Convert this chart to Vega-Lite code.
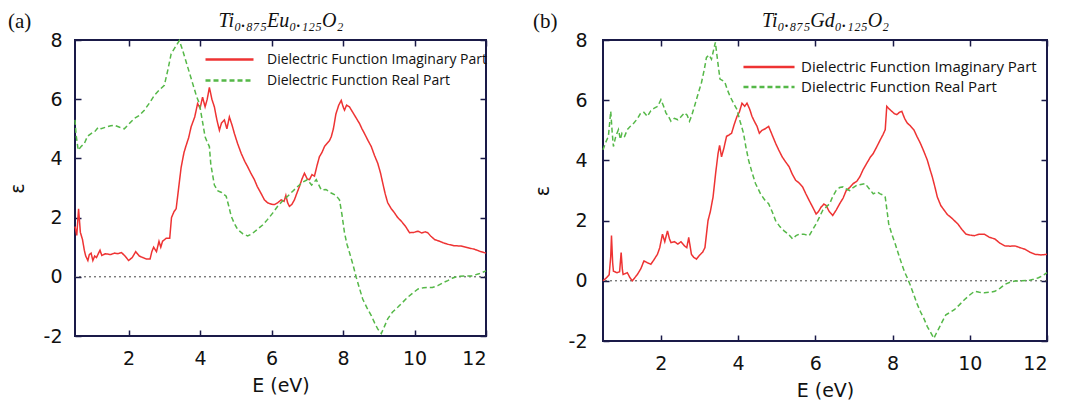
{
"$schema": "https://vega.github.io/schema/vega-lite/v6.json",
"background": "white",
"padding": {"left": 8, "top": 10, "right": 3, "bottom": 0},
"spacing": 44,
"config": {
 "view": {"stroke": null},
 "axis": {"domain": false, "grid": false, "ticks": true, "tickColor": "#1a1a48", "tickOpacity": 1, "tickWidth": 1.5, "tickSize": 6, "offset": -6, "labelFont": "DejaVu Sans", "labelFontSize": 19, "labelColor": "#111111", "titleFont": "DejaVu Sans", "titleFontSize": 19, "titleFontWeight": "normal", "titleColor": "#111111"},
 "title": {"font": "Liberation Serif", "fontSize": 21, "fontWeight": "normal", "anchor": "start", "frame": "bounds", "offset": -22, "color": "#111111"}
},
"resolve": {"scale": {"color": "independent", "strokeDash": "independent"}, "legend": {"color": "independent", "strokeDash": "independent"}},
"datasets": {
"a": [
{"E":0.5,"v":1.7,"p":"Im"},{"E":0.55,"v":1.4,"p":"Im"},{"E":0.6,"v":2.3,"p":"Im"},{"E":0.65,"v":1.5,"p":"Im"},{"E":0.71,"v":1.26,"p":"Im"},{"E":0.76,"v":0.9,"p":"Im"},{"E":0.8,"v":0.7,"p":"Im"},{"E":0.86,"v":0.55,"p":"Im"},{"E":0.9,"v":0.75,"p":"Im"},{"E":0.95,"v":0.8,"p":"Im"},{"E":1.0,"v":0.55,"p":"Im"},{"E":1.05,"v":0.7,"p":"Im"},{"E":1.1,"v":0.65,"p":"Im"},{"E":1.2,"v":0.9,"p":"Im"},{"E":1.25,"v":0.72,"p":"Im"},{"E":1.35,"v":0.78,"p":"Im"},{"E":1.5,"v":0.75,"p":"Im"},{"E":1.6,"v":0.8,"p":"Im"},{"E":1.7,"v":0.78,"p":"Im"},{"E":1.8,"v":0.82,"p":"Im"},{"E":1.9,"v":0.7,"p":"Im"},{"E":2.0,"v":0.55,"p":"Im"},{"E":2.1,"v":0.65,"p":"Im"},{"E":2.2,"v":0.85,"p":"Im"},{"E":2.3,"v":0.7,"p":"Im"},{"E":2.4,"v":0.65,"p":"Im"},{"E":2.5,"v":0.6,"p":"Im"},{"E":2.6,"v":0.6,"p":"Im"},{"E":2.65,"v":0.85,"p":"Im"},{"E":2.7,"v":1.0,"p":"Im"},{"E":2.78,"v":0.85,"p":"Im"},{"E":2.85,"v":1.2,"p":"Im"},{"E":2.9,"v":1.0,"p":"Im"},{"E":2.95,"v":1.2,"p":"Im"},{"E":3.05,"v":1.3,"p":"Im"},{"E":3.15,"v":1.3,"p":"Im"},{"E":3.2,"v":2.0,"p":"Im"},{"E":3.27,"v":2.2,"p":"Im"},{"E":3.33,"v":2.3,"p":"Im"},{"E":3.4,"v":3.0,"p":"Im"},{"E":3.47,"v":3.7,"p":"Im"},{"E":3.55,"v":4.2,"p":"Im"},{"E":3.6,"v":4.4,"p":"Im"},{"E":3.68,"v":4.7,"p":"Im"},{"E":3.75,"v":5.07,"p":"Im"},{"E":3.85,"v":5.4,"p":"Im"},{"E":3.93,"v":5.85,"p":"Im"},{"E":4.0,"v":5.7,"p":"Im"},{"E":4.07,"v":6.07,"p":"Im"},{"E":4.14,"v":5.74,"p":"Im"},{"E":4.2,"v":6.0,"p":"Im"},{"E":4.26,"v":6.4,"p":"Im"},{"E":4.33,"v":6.0,"p":"Im"},{"E":4.4,"v":5.74,"p":"Im"},{"E":4.47,"v":5.3,"p":"Im"},{"E":4.54,"v":4.95,"p":"Im"},{"E":4.6,"v":5.2,"p":"Im"},{"E":4.68,"v":5.3,"p":"Im"},{"E":4.75,"v":5.0,"p":"Im"},{"E":4.82,"v":5.4,"p":"Im"},{"E":4.9,"v":5.1,"p":"Im"},{"E":4.96,"v":4.84,"p":"Im"},{"E":5.05,"v":4.5,"p":"Im"},{"E":5.15,"v":4.17,"p":"Im"},{"E":5.25,"v":3.9,"p":"Im"},{"E":5.33,"v":3.72,"p":"Im"},{"E":5.42,"v":3.5,"p":"Im"},{"E":5.52,"v":3.28,"p":"Im"},{"E":5.6,"v":3.05,"p":"Im"},{"E":5.7,"v":2.83,"p":"Im"},{"E":5.8,"v":2.6,"p":"Im"},{"E":5.89,"v":2.5,"p":"Im"},{"E":6.0,"v":2.45,"p":"Im"},{"E":6.08,"v":2.44,"p":"Im"},{"E":6.17,"v":2.5,"p":"Im"},{"E":6.27,"v":2.6,"p":"Im"},{"E":6.35,"v":2.55,"p":"Im"},{"E":6.4,"v":2.75,"p":"Im"},{"E":6.45,"v":2.5,"p":"Im"},{"E":6.5,"v":2.38,"p":"Im"},{"E":6.57,"v":2.45,"p":"Im"},{"E":6.64,"v":2.6,"p":"Im"},{"E":6.7,"v":2.8,"p":"Im"},{"E":6.78,"v":3.05,"p":"Im"},{"E":6.85,"v":3.3,"p":"Im"},{"E":6.92,"v":3.5,"p":"Im"},{"E":7.0,"v":3.3,"p":"Im"},{"E":7.06,"v":3.28,"p":"Im"},{"E":7.13,"v":3.45,"p":"Im"},{"E":7.2,"v":3.4,"p":"Im"},{"E":7.27,"v":3.75,"p":"Im"},{"E":7.34,"v":4.06,"p":"Im"},{"E":7.41,"v":4.2,"p":"Im"},{"E":7.48,"v":4.4,"p":"Im"},{"E":7.55,"v":4.5,"p":"Im"},{"E":7.62,"v":4.6,"p":"Im"},{"E":7.67,"v":4.73,"p":"Im"},{"E":7.73,"v":5.0,"p":"Im"},{"E":7.8,"v":5.5,"p":"Im"},{"E":7.88,"v":5.8,"p":"Im"},{"E":7.95,"v":5.96,"p":"Im"},{"E":8.0,"v":5.75,"p":"Im"},{"E":8.04,"v":5.63,"p":"Im"},{"E":8.1,"v":5.8,"p":"Im"},{"E":8.18,"v":5.74,"p":"Im"},{"E":8.25,"v":5.6,"p":"Im"},{"E":8.32,"v":5.46,"p":"Im"},{"E":8.4,"v":5.3,"p":"Im"},{"E":8.46,"v":5.18,"p":"Im"},{"E":8.53,"v":5.0,"p":"Im"},{"E":8.6,"v":4.84,"p":"Im"},{"E":8.7,"v":4.6,"p":"Im"},{"E":8.79,"v":4.4,"p":"Im"},{"E":8.88,"v":4.1,"p":"Im"},{"E":8.97,"v":3.84,"p":"Im"},{"E":9.05,"v":3.5,"p":"Im"},{"E":9.11,"v":3.17,"p":"Im"},{"E":9.18,"v":2.8,"p":"Im"},{"E":9.25,"v":2.5,"p":"Im"},{"E":9.35,"v":2.3,"p":"Im"},{"E":9.44,"v":2.16,"p":"Im"},{"E":9.53,"v":2.0,"p":"Im"},{"E":9.63,"v":1.88,"p":"Im"},{"E":9.75,"v":1.7,"p":"Im"},{"E":9.86,"v":1.49,"p":"Im"},{"E":9.98,"v":1.5,"p":"Im"},{"E":10.1,"v":1.54,"p":"Im"},{"E":10.2,"v":1.48,"p":"Im"},{"E":10.3,"v":1.52,"p":"Im"},{"E":10.37,"v":1.49,"p":"Im"},{"E":10.45,"v":1.38,"p":"Im"},{"E":10.56,"v":1.26,"p":"Im"},{"E":10.7,"v":1.2,"p":"Im"},{"E":10.8,"v":1.15,"p":"Im"},{"E":10.93,"v":1.1,"p":"Im"},{"E":11.1,"v":1.05,"p":"Im"},{"E":11.3,"v":1.04,"p":"Im"},{"E":11.5,"v":0.98,"p":"Im"},{"E":11.68,"v":0.93,"p":"Im"},{"E":11.85,"v":0.85,"p":"Im"},{"E":12.0,"v":0.8,"p":"Im"},
{"E":0.5,"v":5.3,"p":"Re"},{"E":0.53,"v":4.8,"p":"Re"},{"E":0.59,"v":4.28,"p":"Re"},{"E":0.67,"v":4.4,"p":"Re"},{"E":0.76,"v":4.5,"p":"Re"},{"E":0.85,"v":4.75,"p":"Re"},{"E":0.95,"v":4.84,"p":"Re"},{"E":1.05,"v":4.9,"p":"Re"},{"E":1.15,"v":5.05,"p":"Re"},{"E":1.23,"v":5.0,"p":"Re"},{"E":1.35,"v":5.05,"p":"Re"},{"E":1.5,"v":5.1,"p":"Re"},{"E":1.6,"v":5.12,"p":"Re"},{"E":1.75,"v":5.05,"p":"Re"},{"E":1.88,"v":5.0,"p":"Re"},{"E":2.0,"v":5.15,"p":"Re"},{"E":2.16,"v":5.35,"p":"Re"},{"E":2.3,"v":5.45,"p":"Re"},{"E":2.44,"v":5.63,"p":"Re"},{"E":2.6,"v":5.9,"p":"Re"},{"E":2.72,"v":6.13,"p":"Re"},{"E":2.85,"v":6.3,"p":"Re"},{"E":3.0,"v":6.47,"p":"Re"},{"E":3.1,"v":7.0,"p":"Re"},{"E":3.19,"v":7.53,"p":"Re"},{"E":3.3,"v":7.75,"p":"Re"},{"E":3.42,"v":7.98,"p":"Re"},{"E":3.5,"v":7.7,"p":"Re"},{"E":3.6,"v":7.3,"p":"Re"},{"E":3.7,"v":6.9,"p":"Re"},{"E":3.8,"v":6.5,"p":"Re"},{"E":3.9,"v":6.1,"p":"Re"},{"E":3.98,"v":5.85,"p":"Re"},{"E":4.06,"v":5.3,"p":"Re"},{"E":4.14,"v":4.73,"p":"Re"},{"E":4.2,"v":4.55,"p":"Re"},{"E":4.26,"v":4.4,"p":"Re"},{"E":4.3,"v":3.8,"p":"Re"},{"E":4.4,"v":3.1,"p":"Re"},{"E":4.5,"v":2.9,"p":"Re"},{"E":4.6,"v":2.85,"p":"Re"},{"E":4.73,"v":2.72,"p":"Re"},{"E":4.8,"v":2.4,"p":"Re"},{"E":4.87,"v":2.05,"p":"Re"},{"E":4.96,"v":1.8,"p":"Re"},{"E":5.05,"v":1.6,"p":"Re"},{"E":5.2,"v":1.45,"p":"Re"},{"E":5.33,"v":1.38,"p":"Re"},{"E":5.45,"v":1.45,"p":"Re"},{"E":5.6,"v":1.6,"p":"Re"},{"E":5.75,"v":1.75,"p":"Re"},{"E":5.89,"v":1.94,"p":"Re"},{"E":6.03,"v":2.15,"p":"Re"},{"E":6.17,"v":2.38,"p":"Re"},{"E":6.3,"v":2.55,"p":"Re"},{"E":6.45,"v":2.72,"p":"Re"},{"E":6.6,"v":2.9,"p":"Re"},{"E":6.73,"v":3.05,"p":"Re"},{"E":6.87,"v":3.2,"p":"Re"},{"E":7.0,"v":3.28,"p":"Re"},{"E":7.12,"v":3.1,"p":"Re"},{"E":7.25,"v":3.28,"p":"Re"},{"E":7.39,"v":2.94,"p":"Re"},{"E":7.52,"v":2.95,"p":"Re"},{"E":7.67,"v":2.83,"p":"Re"},{"E":7.8,"v":2.75,"p":"Re"},{"E":7.9,"v":2.6,"p":"Re"},{"E":7.97,"v":2.1,"p":"Re"},{"E":8.04,"v":1.49,"p":"Re"},{"E":8.11,"v":1.1,"p":"Re"},{"E":8.18,"v":0.82,"p":"Re"},{"E":8.28,"v":0.4,"p":"Re"},{"E":8.37,"v":-0.02,"p":"Re"},{"E":8.45,"v":-0.35,"p":"Re"},{"E":8.55,"v":-0.75,"p":"Re"},{"E":8.67,"v":-1.05,"p":"Re"},{"E":8.79,"v":-1.31,"p":"Re"},{"E":8.88,"v":-1.55,"p":"Re"},{"E":8.97,"v":-1.76,"p":"Re"},{"E":9.07,"v":-1.92,"p":"Re"},{"E":9.15,"v":-1.7,"p":"Re"},{"E":9.25,"v":-1.42,"p":"Re"},{"E":9.38,"v":-1.2,"p":"Re"},{"E":9.53,"v":-1.03,"p":"Re"},{"E":9.67,"v":-0.86,"p":"Re"},{"E":9.81,"v":-0.69,"p":"Re"},{"E":9.95,"v":-0.55,"p":"Re"},{"E":10.1,"v":-0.41,"p":"Re"},{"E":10.25,"v":-0.37,"p":"Re"},{"E":10.37,"v":-0.36,"p":"Re"},{"E":10.5,"v":-0.36,"p":"Re"},{"E":10.65,"v":-0.3,"p":"Re"},{"E":10.8,"v":-0.2,"p":"Re"},{"E":10.93,"v":-0.13,"p":"Re"},{"E":11.05,"v":-0.05,"p":"Re"},{"E":11.2,"v":0.01,"p":"Re"},{"E":11.4,"v":0.03,"p":"Re"},{"E":11.6,"v":0.03,"p":"Re"},{"E":11.8,"v":0.1,"p":"Re"},{"E":12.0,"v":0.2,"p":"Re"}
],
"b": [
{"E":0.5,"v":0.0,"p":"Im"},{"E":0.59,"v":0.1,"p":"Im"},{"E":0.66,"v":0.2,"p":"Im"},{"E":0.7,"v":0.8,"p":"Im"},{"E":0.72,"v":1.5,"p":"Im"},{"E":0.75,"v":0.6,"p":"Im"},{"E":0.77,"v":0.32,"p":"Im"},{"E":0.86,"v":0.27,"p":"Im"},{"E":0.93,"v":0.3,"p":"Im"},{"E":0.97,"v":0.94,"p":"Im"},{"E":1.0,"v":0.4,"p":"Im"},{"E":1.02,"v":0.21,"p":"Im"},{"E":1.13,"v":0.27,"p":"Im"},{"E":1.2,"v":0.1,"p":"Im"},{"E":1.26,"v":0.0,"p":"Im"},{"E":1.39,"v":0.21,"p":"Im"},{"E":1.48,"v":0.4,"p":"Im"},{"E":1.56,"v":0.66,"p":"Im"},{"E":1.65,"v":0.6,"p":"Im"},{"E":1.74,"v":0.55,"p":"Im"},{"E":1.82,"v":0.7,"p":"Im"},{"E":1.91,"v":0.88,"p":"Im"},{"E":1.97,"v":1.1,"p":"Im"},{"E":2.04,"v":1.55,"p":"Im"},{"E":2.1,"v":1.3,"p":"Im"},{"E":2.17,"v":1.66,"p":"Im"},{"E":2.22,"v":1.4,"p":"Im"},{"E":2.26,"v":1.27,"p":"Im"},{"E":2.35,"v":1.3,"p":"Im"},{"E":2.44,"v":1.22,"p":"Im"},{"E":2.52,"v":1.3,"p":"Im"},{"E":2.61,"v":1.16,"p":"Im"},{"E":2.67,"v":1.1,"p":"Im"},{"E":2.72,"v":1.44,"p":"Im"},{"E":2.79,"v":0.88,"p":"Im"},{"E":2.85,"v":0.78,"p":"Im"},{"E":2.92,"v":0.72,"p":"Im"},{"E":3.0,"v":0.85,"p":"Im"},{"E":3.08,"v":0.95,"p":"Im"},{"E":3.14,"v":1.1,"p":"Im"},{"E":3.22,"v":2.0,"p":"Im"},{"E":3.28,"v":2.3,"p":"Im"},{"E":3.35,"v":2.78,"p":"Im"},{"E":3.42,"v":3.6,"p":"Im"},{"E":3.48,"v":4.23,"p":"Im"},{"E":3.52,"v":4.5,"p":"Im"},{"E":3.57,"v":4.12,"p":"Im"},{"E":3.63,"v":4.4,"p":"Im"},{"E":3.7,"v":4.8,"p":"Im"},{"E":3.77,"v":4.85,"p":"Im"},{"E":3.83,"v":4.9,"p":"Im"},{"E":3.9,"v":5.2,"p":"Im"},{"E":3.97,"v":5.46,"p":"Im"},{"E":4.03,"v":5.6,"p":"Im"},{"E":4.1,"v":5.9,"p":"Im"},{"E":4.17,"v":5.8,"p":"Im"},{"E":4.23,"v":5.9,"p":"Im"},{"E":4.3,"v":5.7,"p":"Im"},{"E":4.36,"v":5.46,"p":"Im"},{"E":4.42,"v":5.3,"p":"Im"},{"E":4.49,"v":5.13,"p":"Im"},{"E":4.55,"v":4.9,"p":"Im"},{"E":4.62,"v":5.0,"p":"Im"},{"E":4.7,"v":5.05,"p":"Im"},{"E":4.79,"v":5.13,"p":"Im"},{"E":4.88,"v":4.85,"p":"Im"},{"E":4.97,"v":4.57,"p":"Im"},{"E":5.05,"v":4.35,"p":"Im"},{"E":5.14,"v":4.12,"p":"Im"},{"E":5.23,"v":3.95,"p":"Im"},{"E":5.32,"v":3.79,"p":"Im"},{"E":5.4,"v":3.55,"p":"Im"},{"E":5.49,"v":3.34,"p":"Im"},{"E":5.58,"v":3.25,"p":"Im"},{"E":5.67,"v":3.12,"p":"Im"},{"E":5.75,"v":2.9,"p":"Im"},{"E":5.84,"v":2.67,"p":"Im"},{"E":5.93,"v":2.45,"p":"Im"},{"E":6.02,"v":2.22,"p":"Im"},{"E":6.08,"v":2.3,"p":"Im"},{"E":6.15,"v":2.45,"p":"Im"},{"E":6.22,"v":2.55,"p":"Im"},{"E":6.28,"v":2.5,"p":"Im"},{"E":6.36,"v":2.3,"p":"Im"},{"E":6.45,"v":2.17,"p":"Im"},{"E":6.54,"v":2.35,"p":"Im"},{"E":6.63,"v":2.56,"p":"Im"},{"E":6.72,"v":2.75,"p":"Im"},{"E":6.8,"v":3.0,"p":"Im"},{"E":6.89,"v":3.1,"p":"Im"},{"E":6.98,"v":3.23,"p":"Im"},{"E":7.07,"v":3.3,"p":"Im"},{"E":7.15,"v":3.45,"p":"Im"},{"E":7.24,"v":3.7,"p":"Im"},{"E":7.33,"v":3.9,"p":"Im"},{"E":7.42,"v":4.1,"p":"Im"},{"E":7.5,"v":4.23,"p":"Im"},{"E":7.59,"v":4.45,"p":"Im"},{"E":7.68,"v":4.68,"p":"Im"},{"E":7.75,"v":4.85,"p":"Im"},{"E":7.81,"v":5.02,"p":"Im"},{"E":7.85,"v":5.8,"p":"Im"},{"E":7.92,"v":5.7,"p":"Im"},{"E":7.98,"v":5.63,"p":"Im"},{"E":8.05,"v":5.55,"p":"Im"},{"E":8.11,"v":5.52,"p":"Im"},{"E":8.18,"v":5.6,"p":"Im"},{"E":8.24,"v":5.63,"p":"Im"},{"E":8.31,"v":5.4,"p":"Im"},{"E":8.38,"v":5.24,"p":"Im"},{"E":8.46,"v":5.15,"p":"Im"},{"E":8.55,"v":5.02,"p":"Im"},{"E":8.63,"v":4.8,"p":"Im"},{"E":8.72,"v":4.57,"p":"Im"},{"E":8.81,"v":4.3,"p":"Im"},{"E":8.9,"v":4.01,"p":"Im"},{"E":8.97,"v":3.7,"p":"Im"},{"E":9.03,"v":3.45,"p":"Im"},{"E":9.1,"v":3.1,"p":"Im"},{"E":9.16,"v":2.78,"p":"Im"},{"E":9.25,"v":2.5,"p":"Im"},{"E":9.34,"v":2.34,"p":"Im"},{"E":9.42,"v":2.2,"p":"Im"},{"E":9.51,"v":2.11,"p":"Im"},{"E":9.6,"v":2.0,"p":"Im"},{"E":9.69,"v":1.89,"p":"Im"},{"E":9.8,"v":1.7,"p":"Im"},{"E":9.9,"v":1.55,"p":"Im"},{"E":10.0,"v":1.52,"p":"Im"},{"E":10.12,"v":1.5,"p":"Im"},{"E":10.25,"v":1.55,"p":"Im"},{"E":10.38,"v":1.55,"p":"Im"},{"E":10.5,"v":1.45,"p":"Im"},{"E":10.65,"v":1.39,"p":"Im"},{"E":10.78,"v":1.25,"p":"Im"},{"E":10.91,"v":1.16,"p":"Im"},{"E":11.05,"v":1.15,"p":"Im"},{"E":11.17,"v":1.16,"p":"Im"},{"E":11.3,"v":1.1,"p":"Im"},{"E":11.43,"v":1.05,"p":"Im"},{"E":11.56,"v":0.95,"p":"Im"},{"E":11.69,"v":0.88,"p":"Im"},{"E":11.85,"v":0.86,"p":"Im"},{"E":12.0,"v":0.88,"p":"Im"},
{"E":0.5,"v":4.35,"p":"Re"},{"E":0.57,"v":4.6,"p":"Re"},{"E":0.64,"v":4.8,"p":"Re"},{"E":0.7,"v":5.63,"p":"Re"},{"E":0.74,"v":4.9,"p":"Re"},{"E":0.77,"v":4.46,"p":"Re"},{"E":0.83,"v":4.8,"p":"Re"},{"E":0.9,"v":5.02,"p":"Re"},{"E":0.95,"v":4.7,"p":"Re"},{"E":0.99,"v":4.9,"p":"Re"},{"E":1.06,"v":4.8,"p":"Re"},{"E":1.13,"v":5.02,"p":"Re"},{"E":1.22,"v":5.15,"p":"Re"},{"E":1.3,"v":5.24,"p":"Re"},{"E":1.4,"v":5.4,"p":"Re"},{"E":1.48,"v":5.58,"p":"Re"},{"E":1.56,"v":5.6,"p":"Re"},{"E":1.65,"v":5.46,"p":"Re"},{"E":1.74,"v":5.65,"p":"Re"},{"E":1.83,"v":5.74,"p":"Re"},{"E":1.92,"v":5.8,"p":"Re"},{"E":2.0,"v":6.02,"p":"Re"},{"E":2.07,"v":5.8,"p":"Re"},{"E":2.13,"v":5.58,"p":"Re"},{"E":2.2,"v":5.45,"p":"Re"},{"E":2.26,"v":5.3,"p":"Re"},{"E":2.35,"v":5.4,"p":"Re"},{"E":2.44,"v":5.35,"p":"Re"},{"E":2.52,"v":5.45,"p":"Re"},{"E":2.61,"v":5.58,"p":"Re"},{"E":2.68,"v":5.5,"p":"Re"},{"E":2.74,"v":5.3,"p":"Re"},{"E":2.8,"v":5.5,"p":"Re"},{"E":2.87,"v":5.8,"p":"Re"},{"E":2.96,"v":6.2,"p":"Re"},{"E":3.05,"v":6.58,"p":"Re"},{"E":3.12,"v":7.0,"p":"Re"},{"E":3.18,"v":7.42,"p":"Re"},{"E":3.25,"v":7.5,"p":"Re"},{"E":3.31,"v":7.36,"p":"Re"},{"E":3.41,"v":7.92,"p":"Re"},{"E":3.47,"v":7.3,"p":"Re"},{"E":3.53,"v":6.7,"p":"Re"},{"E":3.6,"v":6.65,"p":"Re"},{"E":3.66,"v":6.58,"p":"Re"},{"E":3.72,"v":6.35,"p":"Re"},{"E":3.79,"v":6.13,"p":"Re"},{"E":3.88,"v":5.9,"p":"Re"},{"E":3.97,"v":5.69,"p":"Re"},{"E":4.05,"v":5.3,"p":"Re"},{"E":4.14,"v":4.9,"p":"Re"},{"E":4.2,"v":4.45,"p":"Re"},{"E":4.27,"v":4.01,"p":"Re"},{"E":4.36,"v":3.6,"p":"Re"},{"E":4.45,"v":3.23,"p":"Re"},{"E":4.52,"v":3.05,"p":"Re"},{"E":4.58,"v":2.89,"p":"Re"},{"E":4.68,"v":2.7,"p":"Re"},{"E":4.79,"v":2.56,"p":"Re"},{"E":4.88,"v":2.3,"p":"Re"},{"E":4.97,"v":2.0,"p":"Re"},{"E":5.08,"v":1.8,"p":"Re"},{"E":5.19,"v":1.66,"p":"Re"},{"E":5.3,"v":1.55,"p":"Re"},{"E":5.41,"v":1.39,"p":"Re"},{"E":5.5,"v":1.5,"p":"Re"},{"E":5.58,"v":1.55,"p":"Re"},{"E":5.7,"v":1.55,"p":"Re"},{"E":5.84,"v":1.5,"p":"Re"},{"E":5.93,"v":1.7,"p":"Re"},{"E":6.02,"v":1.89,"p":"Re"},{"E":6.1,"v":2.1,"p":"Re"},{"E":6.19,"v":2.34,"p":"Re"},{"E":6.28,"v":2.45,"p":"Re"},{"E":6.37,"v":2.56,"p":"Re"},{"E":6.45,"v":2.8,"p":"Re"},{"E":6.54,"v":3.0,"p":"Re"},{"E":6.63,"v":3.1,"p":"Re"},{"E":6.72,"v":3.12,"p":"Re"},{"E":6.8,"v":3.05,"p":"Re"},{"E":6.89,"v":3.0,"p":"Re"},{"E":6.98,"v":3.1,"p":"Re"},{"E":7.07,"v":3.17,"p":"Re"},{"E":7.18,"v":3.2,"p":"Re"},{"E":7.29,"v":3.23,"p":"Re"},{"E":7.4,"v":3.05,"p":"Re"},{"E":7.5,"v":2.89,"p":"Re"},{"E":7.6,"v":2.95,"p":"Re"},{"E":7.68,"v":2.89,"p":"Re"},{"E":7.75,"v":2.85,"p":"Re"},{"E":7.81,"v":2.78,"p":"Re"},{"E":7.86,"v":2.3,"p":"Re"},{"E":7.9,"v":1.89,"p":"Re"},{"E":7.98,"v":1.55,"p":"Re"},{"E":8.07,"v":1.22,"p":"Re"},{"E":8.15,"v":0.9,"p":"Re"},{"E":8.24,"v":0.55,"p":"Re"},{"E":8.31,"v":0.3,"p":"Re"},{"E":8.38,"v":0.1,"p":"Re"},{"E":8.46,"v":-0.15,"p":"Re"},{"E":8.55,"v":-0.46,"p":"Re"},{"E":8.63,"v":-0.75,"p":"Re"},{"E":8.72,"v":-1.02,"p":"Re"},{"E":8.81,"v":-1.25,"p":"Re"},{"E":8.9,"v":-1.52,"p":"Re"},{"E":8.98,"v":-1.7,"p":"Re"},{"E":9.07,"v":-1.91,"p":"Re"},{"E":9.13,"v":-1.75,"p":"Re"},{"E":9.2,"v":-1.58,"p":"Re"},{"E":9.29,"v":-1.35,"p":"Re"},{"E":9.38,"v":-1.13,"p":"Re"},{"E":9.49,"v":-1.05,"p":"Re"},{"E":9.6,"v":-0.96,"p":"Re"},{"E":9.73,"v":-0.8,"p":"Re"},{"E":9.86,"v":-0.63,"p":"Re"},{"E":9.99,"v":-0.48,"p":"Re"},{"E":10.12,"v":-0.35,"p":"Re"},{"E":10.25,"v":-0.38,"p":"Re"},{"E":10.38,"v":-0.4,"p":"Re"},{"E":10.52,"v":-0.38,"p":"Re"},{"E":10.65,"v":-0.35,"p":"Re"},{"E":10.78,"v":-0.25,"p":"Re"},{"E":10.91,"v":-0.12,"p":"Re"},{"E":11.04,"v":-0.05,"p":"Re"},{"E":11.17,"v":-0.01,"p":"Re"},{"E":11.35,"v":0.0,"p":"Re"},{"E":11.52,"v":0.01,"p":"Re"},{"E":11.65,"v":0.05,"p":"Re"},{"E":11.78,"v":0.1,"p":"Re"},{"E":11.9,"v":0.18,"p":"Re"},{"E":12.0,"v":0.27,"p":"Re"}
]
},
"hconcat": [
{
 "title": "(a)",
 "width": 411, "height": 296,
 "resolve": {"axis": {"x": "independent", "y": "independent"}},
 "layer": [
  {"data": {"values": [{}]},
   "mark": {"type": "rect", "filled": false, "color": "#1a1a48", "strokeWidth": 2},
   "encoding": {
    "x": {"datum": 0.5, "type": "quantitative", "scale": {"domain": [0.5, 12], "nice": false, "zero": false}, "axis": {"orient": "top", "values": [2, 4, 6, 8, 10, 12], "labels": false, "title": "Ti₀.₈₇₅Eu₀.₁₂₅O₂", "titleFont": "Liberation Serif", "titleFontStyle": "italic", "titleFontSize": 20, "titlePadding": 9}},
    "x2": {"datum": 12},
    "y": {"datum": -2, "type": "quantitative", "scale": {"domain": [-2, 8], "nice": false, "zero": false}, "axis": {"orient": "right", "values": [-2, 0, 2, 4, 6, 8], "labels": false, "title": null}},
    "y2": {"datum": 8}
   }},
  {"data": {"values": [{}]},
   "mark": {"type": "rule", "color": "#444444", "strokeDash": [2, 3], "strokeWidth": 1},
   "encoding": {"y": {"datum": 0, "type": "quantitative", "axis": null}}},
  {"data": {"name": "a"},
   "mark": {"type": "line", "strokeWidth": 1.5},
   "encoding": {
    "x": {"field": "E", "type": "quantitative", "scale": {"domain": [0.5, 12], "nice": false, "zero": false}, "axis": {"orient": "bottom", "values": [2, 4, 6, 8, 10, 12], "title": "E (eV)", "labelPadding": 13, "titlePadding": 8}},
    "y": {"field": "v", "type": "quantitative", "scale": {"domain": [-2, 8], "nice": false, "zero": false}, "axis": {"orient": "left", "values": [-2, 0, 2, 4, 6, 8], "labelExpr": "replace(datum.label, '−', '-')", "title": "ε", "labelPadding": 13, "titlePadding": 16}},
    "color": {"field": "p", "type": "nominal", "scale": {"domain": ["Im", "Re"], "range": ["#ee3333", "#55b848"]},
     "legend": {"orient": "none", "legendX": 147, "legendY": 12, "title": null, "padding": 0, "labelExpr": "datum.label == 'Im' ? 'Dielectric Function Imaginary Part' : 'Dielectric Function Real Part'", "symbolType": "M-4,0H4", "symbolSize": 144, "symbolStrokeWidth": 2.5, "labelFont": "Open Sans", "labelFontSize": 14, "labelColor": "#111111", "labelOffset": 30, "labelLimit": 400, "rowPadding": 6}},
    "strokeDash": {"field": "p", "type": "nominal", "scale": {"domain": ["Im", "Re"], "range": [[1, 0], [5, 3]]},
     "legend": {"orient": "none", "legendX": 147, "legendY": 12, "title": null, "padding": 0, "labelExpr": "datum.label == 'Im' ? 'Dielectric Function Imaginary Part' : 'Dielectric Function Real Part'", "symbolType": "M-4,0H4", "symbolSize": 144, "symbolStrokeWidth": 2.5, "labelFont": "Open Sans", "labelFontSize": 14, "labelColor": "#111111", "labelOffset": 30, "labelLimit": 400, "rowPadding": 6}}
   }}
 ]
},
{
 "title": "(b)",
 "width": 444, "height": 301,
 "resolve": {"axis": {"x": "independent", "y": "independent"}},
 "layer": [
  {"data": {"values": [{}]},
   "mark": {"type": "rect", "filled": false, "color": "#1a1a48", "strokeWidth": 2},
   "encoding": {
    "x": {"datum": 0.5, "type": "quantitative", "scale": {"domain": [0.5, 12], "nice": false, "zero": false}, "axis": {"orient": "top", "values": [2, 4, 6, 8, 10, 12], "labels": false, "title": "Ti₀.₈₇₅Gd₀.₁₂₅O₂", "titleFont": "Liberation Serif", "titleFontStyle": "italic", "titleFontSize": 20, "titlePadding": 9}},
    "x2": {"datum": 12},
    "y": {"datum": -2, "type": "quantitative", "scale": {"domain": [-2, 8], "nice": false, "zero": false}, "axis": {"orient": "right", "values": [-2, 0, 2, 4, 6, 8], "labels": false, "title": null}},
    "y2": {"datum": 8}
   }},
  {"data": {"values": [{}]},
   "mark": {"type": "rule", "color": "#444444", "strokeDash": [2, 3], "strokeWidth": 1},
   "encoding": {"y": {"datum": 0, "type": "quantitative", "axis": null}}},
  {"data": {"name": "b"},
   "mark": {"type": "line", "strokeWidth": 1.5},
   "encoding": {
    "x": {"field": "E", "type": "quantitative", "scale": {"domain": [0.5, 12], "nice": false, "zero": false}, "axis": {"orient": "bottom", "values": [2, 4, 6, 8, 10, 12], "title": "E (eV)", "labelPadding": 13, "titlePadding": 8}},
    "y": {"field": "v", "type": "quantitative", "scale": {"domain": [-2, 8], "nice": false, "zero": false}, "axis": {"orient": "left", "values": [-2, 0, 2, 4, 6, 8], "labelExpr": "replace(datum.label, '−', '-')", "title": "ε", "labelPadding": 16, "titlePadding": 16}},
    "color": {"field": "p", "type": "nominal", "scale": {"domain": ["Im", "Re"], "range": ["#ee3333", "#55b848"]},
     "legend": {"orient": "none", "legendX": 158, "legendY": 19, "title": null, "padding": 0, "labelExpr": "datum.label == 'Im' ? 'Dielectric Function Imaginary Part' : 'Dielectric Function Real Part'", "symbolType": "M-4,0H4", "symbolSize": 163, "symbolStrokeWidth": 2.5, "labelFont": "Open Sans", "labelFontSize": 15, "labelColor": "#111111", "labelOffset": 24, "labelLimit": 400, "rowPadding": 4}},
    "strokeDash": {"field": "p", "type": "nominal", "scale": {"domain": ["Im", "Re"], "range": [[1, 0], [5, 3]]},
     "legend": {"orient": "none", "legendX": 158, "legendY": 19, "title": null, "padding": 0, "labelExpr": "datum.label == 'Im' ? 'Dielectric Function Imaginary Part' : 'Dielectric Function Real Part'", "symbolType": "M-4,0H4", "symbolSize": 163, "symbolStrokeWidth": 2.5, "labelFont": "Open Sans", "labelFontSize": 15, "labelColor": "#111111", "labelOffset": 24, "labelLimit": 400, "rowPadding": 4}}
   }}
 ]
}
]
}
